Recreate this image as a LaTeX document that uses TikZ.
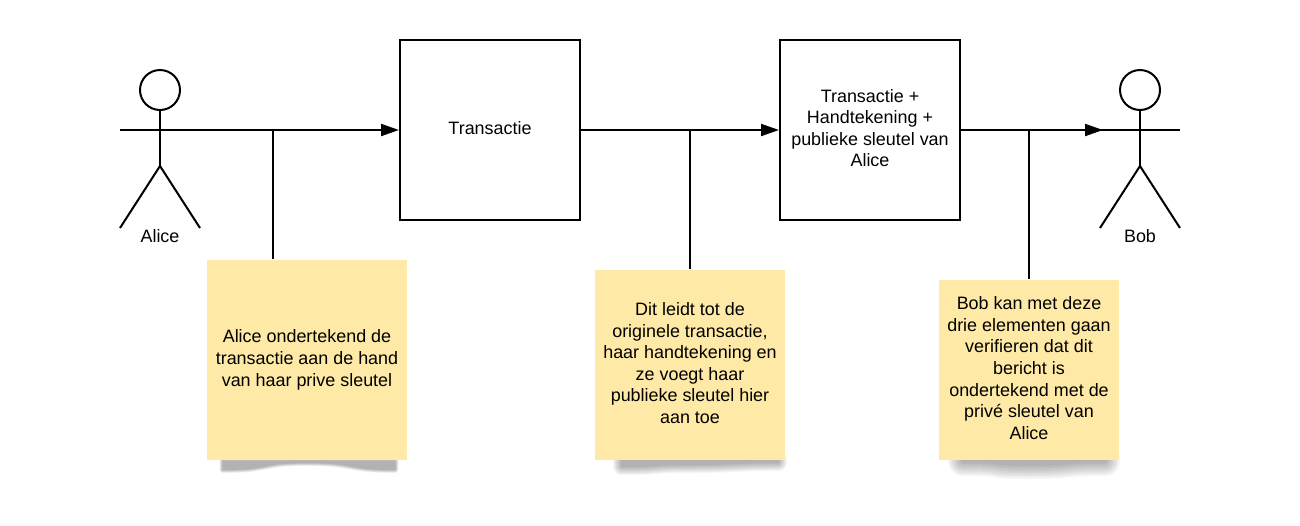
\documentclass[tikz,border=0pt]{standalone}
\usepackage{fontspec}
\setmainfont{Liberation Sans}
\usepackage{xcolor}
\usepackage{tikz}
\usetikzlibrary{calc}
\usetikzlibrary{backgrounds}
\usetikzlibrary{arrows.meta}
\usetikzlibrary{positioning}
\definecolor{notecolor}{HTML}{FEE9A6}

\begin{document}
\begin{tikzpicture}
    \tikzstyle{every path}=[line width=0.04cm]
    \tikzstyle{txt}=[font=\fontsize{10.2}{12.3}\selectfont,align=center,inner sep=0pt]
    \tikzstyle{bigbox}=[txt,draw=black,line width=0.04cm,minimum size=3.6cm,text depth=0.08cm]
    \tikzstyle{note}=[txt,fill=notecolor,text depth=0.08cm]
    \tikzstyle{head}=[draw=black,line width=0.04cm,circle,minimum size=0.8cm,inner sep=0pt]
    \tikzstyle{flow}=[-{Triangle[length=0.36cm,width=0.24cm]}]

    \useasboundingbox (0,0) rectangle (26,-10.5);

    \node[bigbox] (transactie) at (9.8,-2.6) {Transactie};
    \node[bigbox,right=3.96cm of transactie] (bericht) {Transactie +\\Handtekening +\\publieke sleutel van\\Alice};

    \node[note,minimum width=4cm,minimum height=4cm,below=0.76cm of transactie,xshift=-3.66cm] (notealice)
        {Alice ondertekend de\\transactie aan de hand\\van haar prive sleutel};
    \node[note,minimum width=3.8cm,minimum height=3.8cm,below=0.96cm of transactie,xshift=4cm] (notehaar)
        {Dit leidt tot de\\originele transactie,\\haar handtekening en\\ze voegt haar\\publieke sleutel hier\\aan toe};
    \node[note,minimum width=3.6cm,minimum height=3.6cm,below=1.16cm of bericht,xshift=3.18cm] (notebob)
        {Bob kan met deze\\drie elementen gaan\\verifieren dat dit\\bericht is\\ondertekend met de\\privé sleutel van\\Alice};

    \newcommand{\stickfigure}[3]{%
      \node[head] (#1head) at (#2) {};
      \coordinate (#1neck) at ([yshift=-1.1cm]#1head.south);
      \coordinate (#1armleft) at ([xshift=-0.8cm,yshift=-0.38cm]#1head.south);
      \coordinate (#1armright) at ([xshift=0.8cm,yshift=-0.38cm]#1head.south);
      \coordinate (#1footleft) at ([xshift=-0.8cm,yshift=-1.24cm]#1neck);
      \coordinate (#1footright) at ([xshift=0.8cm,yshift=-1.24cm]#1neck);
      \draw (#1head.south) -- (#1neck);
      \draw (#1armleft) -- (#1armright);
      \draw (#1footleft) -- (#1neck) -- (#1footright);
      \node[txt] (#1label) at ([yshift=-2.92cm]#1head) {#3};}

    \stickfigure{alice}{3.2,-1.8}{Alice}
    \stickfigure{bob}{22.8,-1.8}{Bob}

    \draw[flow] (alicearmright |- transactie.west) -- (transactie.west);
    \draw[flow] (transactie.east) -- (bericht.west);
    \draw[flow] (bericht.east) -- ([xshift=0.06cm]bobarmleft |- bericht.east);

    \draw ([xshift=-0.68cm]notealice.north) -- ([xshift=-0.68cm]notealice.north |- transactie.west);
    \draw (notehaar.north) -- (notehaar.north |- transactie.east);
    \draw (notebob.north) -- (notebob.north |- bericht.east);

    % soft shadow: note, left and right inset, depth at left, middle and right, blur
    \newcommand{\noteshadow}[7]{%
    \foreach \i in {1,...,10}{%
      \begin{scope}[transparency group,opacity=0.035]
      \filldraw[black,line width=\i*#7 cm/10,line join=round]
        ([xshift=#2 cm]#1.south west) -- ([xshift=#2 cm,yshift=-#4 cm]#1.south west)
        .. controls ([xshift=#2 cm + 1cm,yshift=-#4 cm]#1.south west) and ([xshift=-1cm,yshift=-#5 cm]#1.south) .. ([yshift=-#5 cm]#1.south)
        .. controls ([xshift=1cm,yshift=-#5 cm]#1.south) and ([xshift=-#3 cm - 1cm,yshift=-#6 cm]#1.south east) .. ([xshift=-#3 cm,yshift=-#6 cm]#1.south east)
        -- ([xshift=-#3 cm]#1.south east) -- cycle;
      \end{scope}}}

    \begin{scope}[on background layer]
      \noteshadow{notealice}{0.34}{0.26}{0.17}{0.03}{0.17}{0.14}
      \noteshadow{notehaar}{0.56}{0.16}{0.1}{0.06}{0.02}{0.36}
      \noteshadow{notebob}{0.5}{0.3}{0}{0.06}{0}{0.6}
    \end{scope}
\end{tikzpicture}
\end{document}
